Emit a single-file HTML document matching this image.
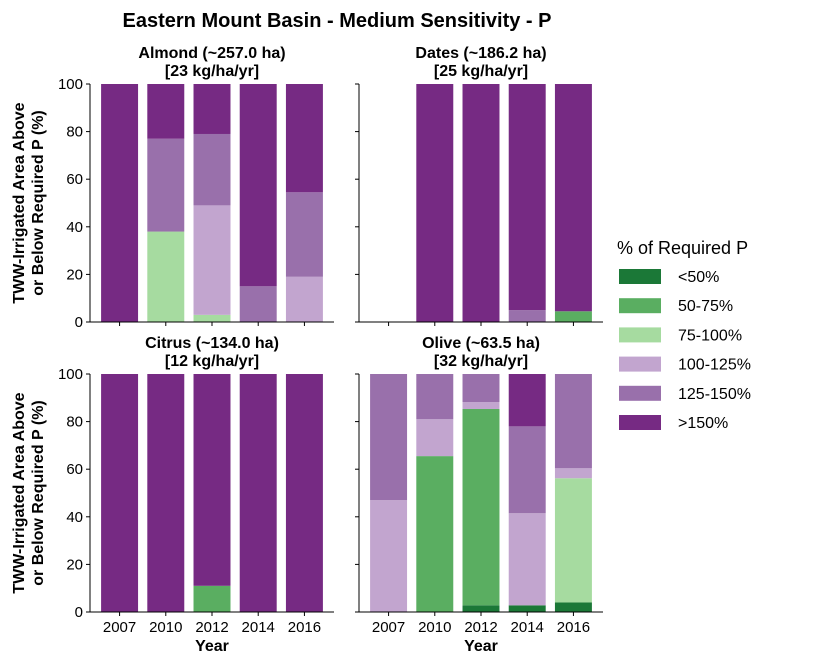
<!DOCTYPE html>
<html><head><meta charset="utf-8"><style>
body{margin:0;background:#fff}
svg{font-family:"Liberation Sans",sans-serif}
</style></head><body>
<svg id="c" width="817" height="666">
<text x="337" y="27" text-anchor="middle" font-size="20" font-weight="bold">Eastern Mount Basin - Medium Sensitivity - P</text>
</svg>
<script>
const years=["2007","2010","2012","2014","2016"];
const cats=["<50%","50-75%","75-100%","100-125%","125-150%",">150%"];
const colors=["#1b7837","#5aae61","#a6dba0","#c2a5cf","#9970ab","#762a83"];
const yTicks=[0,20,40,60,80,100];
const titles=[["Almond (~257.0 ha)","[23 kg/ha/yr]"],["Dates (~186.2 ha)","[25 kg/ha/yr]"],["Citrus (~134.0 ha)","[12 kg/ha/yr]"],["Olive (~63.5 ha)","[32 kg/ha/yr]"]];
// values per panel: rows = years, cols = categories (<50 .. >150)
const almond=[[0,0,0,0,0,100],[0,0,38,0,39,23],[0,0,3,46,30,21],[0,0,0,0,15,85],[0,0,0,19,35.5,45.5]];
const dates=[[0,0,0,0,0,0],[0,0,0,0,0,100],[0,0,0,0,0,100],[0,0,0,0,5,95],[0,4.5,0,0,0,95.5]];
const citrus=[[0,0,0,0,0,100],[0,0,0,0,0,100],[0,11,0,0,0,89],[0,0,0,0,0,100],[0,0,0,0,0,100]];
const olive=[[0,0,0,47,53,0],[0,65.5,0,15.5,19,0],[2.8,82.5,0,2.9,11.8,0],[2.8,0,0,38.7,36.5,22],[4,0,52.2,4.2,39.6,0]];
const panelsData=[almond,dates,citrus,olive];

const NS="http://www.w3.org/2000/svg";
const svg=document.getElementById('c');
function mk(t,a,txt){const e=document.createElementNS(NS,t);for(const k in a)e.setAttribute(k,a[k]);if(txt!=null)e.textContent=txt;svg.appendChild(e);return e;}
const panels=[{x0:90,top:84,bot:322},{x0:359,top:84,bot:322},{x0:90,top:374,bot:612},{x0:359,top:374,bot:612}];
const W=244,xmin=-0.64,xmax=4.64;
panels.forEach((p,pi)=>{
  const xs=i=>p.x0+(i-xmin)/(xmax-xmin)*W;
  const ys=v=>p.bot-(v/100)*(p.bot-p.top);
  const bw=0.8*W/(xmax-xmin);
  panelsData[pi].forEach((row,i)=>{
    let acc=0;
    row.forEach((v,k)=>{
      if(v<=0)return;
      const r=mk('rect',{x:xs(i)-bw/2,y:ys(acc+v),width:bw,height:ys(acc)-ys(acc+v),fill:colors[k]});
      
      
      acc+=v;
    });
  });
  // axes
  let a=mk('line',{x1:p.x0,y1:p.top,x2:p.x0,y2:p.bot,stroke:'#000','stroke-width':1});
  
  a=mk('line',{x1:p.x0,y1:p.bot,x2:p.x0+W,y2:p.bot,stroke:'#000','stroke-width':1});
  
  yTicks.forEach(t=>{
    mk('line',{x1:p.x0-4,y1:ys(t),x2:p.x0,y2:ys(t),stroke:'#000'});
    if(pi%2==0){const l=mk('text',{x:p.x0-7,y:ys(t)+5,'text-anchor':'end','font-size':15},t);
      }
  });
  years.forEach((y,i)=>{
    mk('line',{x1:xs(i),y1:p.bot,x2:xs(i),y2:p.bot+4,stroke:'#000'});
    if(pi>=2){const l=mk('text',{x:xs(i),y:p.bot+20,'text-anchor':'middle','font-size':15},y);
      }
  });
  const cx=p.x0+W/2;
  let t=mk('text',{x:cx,y:p.top-26,'text-anchor':'middle','font-size':16,'font-weight':'bold'},titles[pi][0]);
  
  t=mk('text',{x:cx,y:p.top-8,'text-anchor':'middle','font-size':16,'font-weight':'bold'},titles[pi][1]);
  
  if(pi>=2){t=mk('text',{x:cx,y:651,'text-anchor':'middle','font-size':16,'font-weight':'bold'},'Year');
    }
  if(pi%2==0){const my=(p.top+p.bot)/2;
    t=mk('text',{x:0,y:0,'text-anchor':'middle','font-size':16,'font-weight':'bold',transform:`translate(24,${my}) rotate(-90)`},'TWW-Irrigated Area Above');
    
    t=mk('text',{x:0,y:0,'text-anchor':'middle','font-size':16,'font-weight':'bold',transform:`translate(43,${my}) rotate(-90)`},'or Below Required P (%)');
    }
});
let lt=mk('text',{x:617,y:254,'font-size':18},'% of Required P');

cats.forEach((c,k)=>{
  const y=269+k*29.2;
  const r=mk('rect',{x:619,y:y,width:42,height:15,fill:colors[k]});
  
  const l=mk('text',{x:678,y:y+13,'font-size':16},c);
  
});
</script>
</body></html>
